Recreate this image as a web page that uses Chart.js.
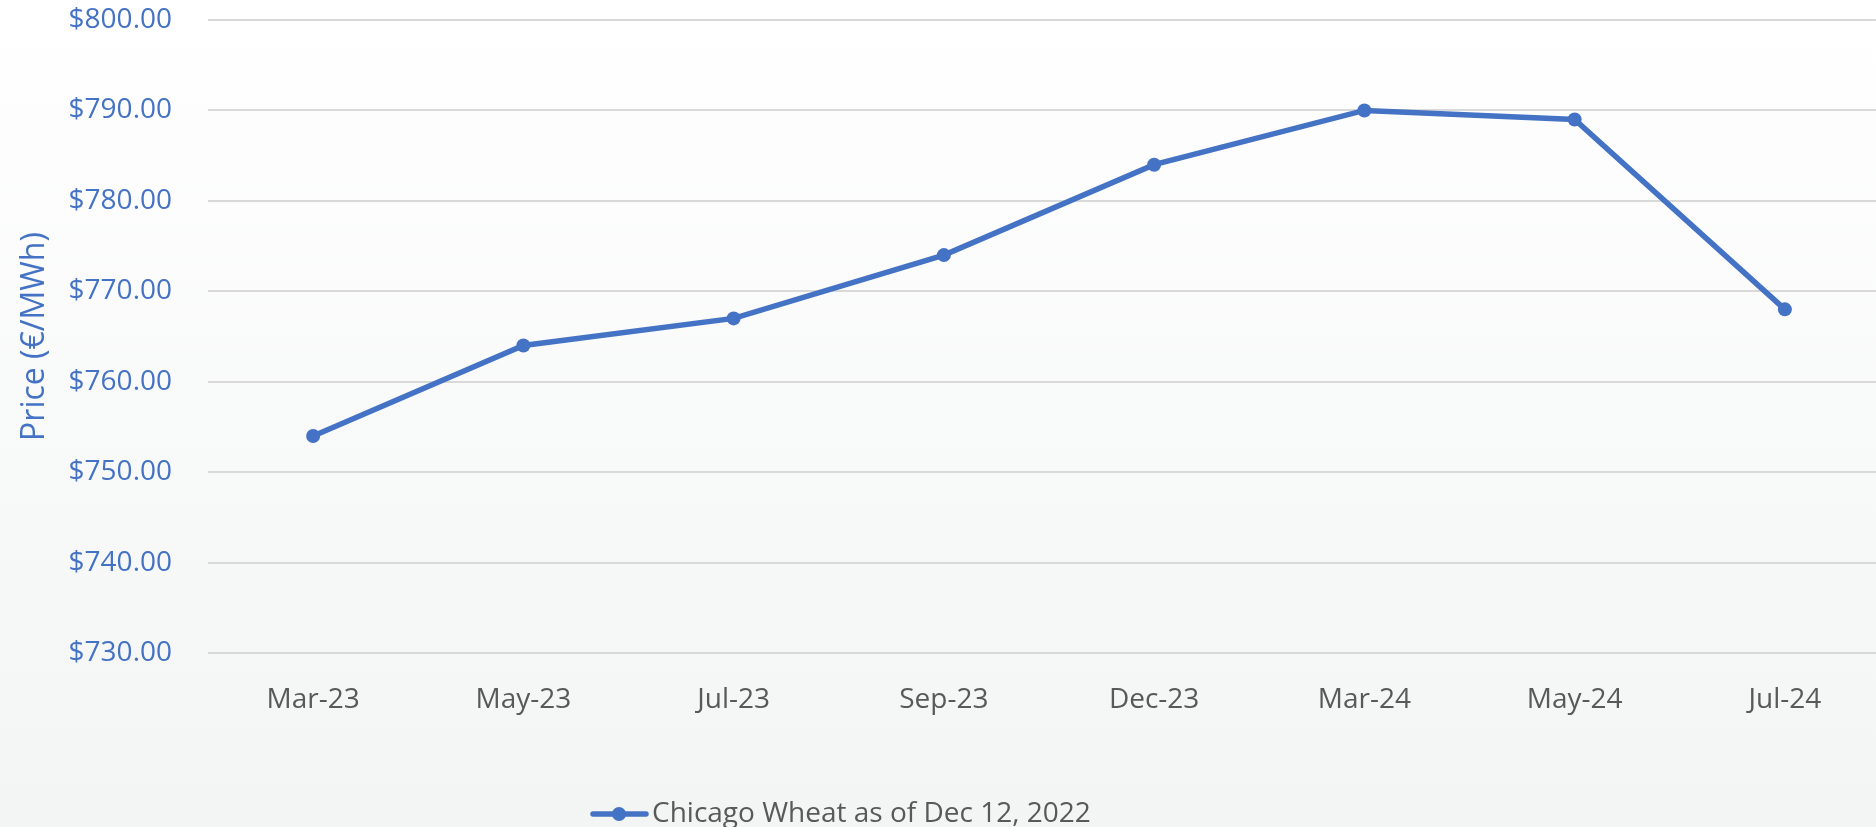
<!DOCTYPE html>
<html>
<head>
<meta charset="utf-8">
<script src="https://cdn.jsdelivr.net/npm/chart.js@4/dist/chart.umd.min.js"></script>
<style>
  html { margin: 0; padding: 0; overflow: hidden; width: 1876px; height: 827px; }
  body { margin: 0; padding: 0; width: 1910px; height: 827px; background: linear-gradient(to bottom, #ffffff 0%, #f3f4f4 100%); }
  #c { display: block; width: 1897px; height: 827px; }
</style>
</head>
<body>
<canvas id="c" width="1897" height="827"></canvas>
<script>
const categories = ["Mar-23", "May-23", "Jul-23", "Sep-23", "Dec-23", "Mar-24", "May-24", "Jul-24"];
const wheatPrices = [754, 764, 767, 774, 784, 790, 789, 768];
const seriesLabel = "Chicago Wheat as of Dec 12, 2022";
const yAxisTitle = "Price (€/MWh)";
const yMin = 730, yMax = 800, yStep = 10;

const BLUE = "#4472C4";
const GREY = "#595959";
const FONT = "'Open Sans', 'Noto Sans', sans-serif";

const customLegend = {
  id: "customLegend",
  afterDraw(chart) {
    const ctx = chart.ctx;
    const ds = chart.data.datasets[0];
    const y = 814;
    ctx.save();
    ctx.strokeStyle = BLUE;
    ctx.lineWidth = 5.5;
    ctx.lineCap = "round";
    ctx.beginPath();
    ctx.moveTo(593, y);
    ctx.lineTo(646, y);
    ctx.stroke();
    ctx.fillStyle = BLUE;
    ctx.beginPath();
    ctx.arc(619, y, 7, 0, Math.PI * 2);
    ctx.fill();
    ctx.font = "28px " + FONT;
    ctx.fillStyle = GREY;
    ctx.textBaseline = "middle";
    ctx.textAlign = "left";
    ctx.fillText(ds.label, 652, y);
    ctx.restore();
  }
};

new Chart(document.getElementById("c"), {
  type: "line",
  data: {
    labels: categories,
    datasets: [{
      label: seriesLabel,
      data: wheatPrices,
      borderColor: BLUE,
      backgroundColor: BLUE,
      borderWidth: 5.5,
      pointRadius: 7,
      pointHoverRadius: 7,
      pointBackgroundColor: BLUE,
      pointBorderWidth: 0,
      tension: 0
    }]
  },
  options: {
    responsive: false,
    animation: false,
    layout: { padding: { top: 0, right: 0, bottom: 0, left: 0 } },
    plugins: {
      legend: { display: false },
      tooltip: { enabled: false }
    },
    scales: {
      x: {
        offset: true,
        grid: { display: false, drawTicks: false },
        border: { display: false },
        ticks: { color: GREY, font: { family: FONT, size: 28 }, padding: 30, maxRotation: 0 },
        afterFit(s) { s.height = 174; s.paddingLeft = 0; s.paddingRight = 0; }
      },
      y: {
        min: yMin,
        max: yMax,
        grid: { color: "#d9d9d9", lineWidth: 2, drawTicks: false },
        border: { display: false },
        ticks: {
          stepSize: yStep,
          color: BLUE,
          font: { family: FONT, size: 28 },
          padding: 36,
          callback: v => "$" + Number(v).toFixed(2)
        },
        title: {
          display: true,
          text: yAxisTitle,
          color: BLUE,
          font: { family: FONT, size: 32 },
          padding: { top: 16, bottom: 0 }
        },
        afterFit(s) { s.width = 208; s.paddingTop = 20; s.paddingBottom = 0; }
      }
    }
  },
  plugins: [customLegend]
});
</script>
</body>
</html>
